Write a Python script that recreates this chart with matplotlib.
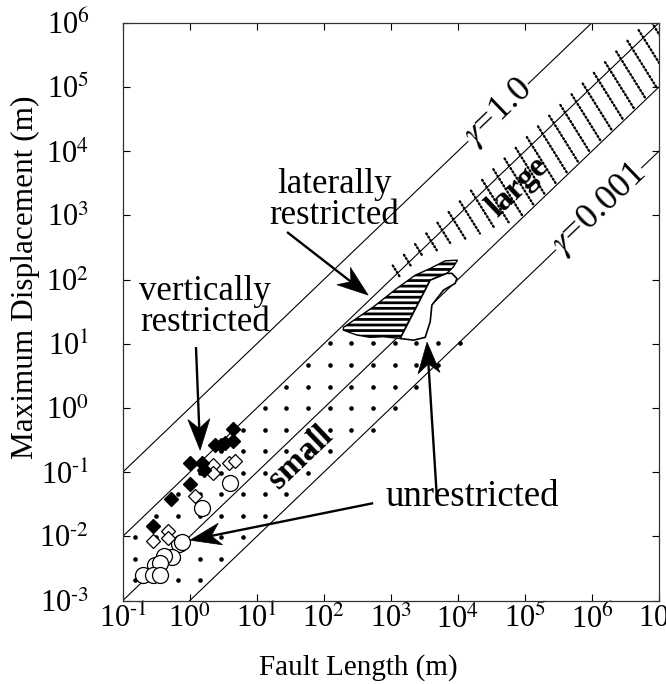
import numpy as np
import matplotlib
matplotlib.use('Agg')
import matplotlib.pyplot as plt
from matplotlib.patches import Polygon
from matplotlib.ticker import FuncFormatter

plt.rcParams['font.family'] = ['Liberation Serif', 'DejaVu Serif']
plt.rcParams['mathtext.fontset'] = 'stix'
plt.rcParams['hatch.linewidth'] = 2.0

# ---------------- data ----------------
gammas = [1.0, 0.1, 0.01, 0.001]

# vertically restricted faults (filled diamonds)
vr_L = [4.37, 2.40, 2.88, 3.39, 4.37, 1.00, 1.51, 1.66, 1.00, 0.525, 0.282]
vr_D = [0.468, 0.263, 0.269, 0.282, 0.302, 0.138, 0.141, 0.110, 0.0646, 0.038, 0.0145]

# open diamonds
od_L = [2.24, 2.24, 3.80, 4.79, 1.20, 0.479, 0.282, 0.468]
od_D = [0.132, 0.098, 0.138, 0.148, 0.0427, 0.0123, 0.0085, 0.0095]

# unrestricted faults (open circles)
ur_L = [3.98, 1.55, 0.69, 0.76, 0.54, 0.41, 0.30, 0.355, 0.204, 0.282, 0.355]
ur_D = [0.0676, 0.0275, 0.0076, 0.0081, 0.0048, 0.0050, 0.00355, 0.0038, 0.0025, 0.0025, 0.0025]

# laterally restricted population (hatched outline)
lat_L = [196, 551, 1230, 2307, 3864, 6457, 9860, 8590, 6855, 3864, 2582, 1832, 1377, 776, 491, 310, 196]
lat_D = [18.0, 37.7, 73.0, 117, 149, 196, 201, 158, 125, 98, 42.6, 22.0, 12.1, 12.9, 12.6, 13.7, 16.3]

# unrestricted large-fault population (open outline)
unr_L = [1377, 2173, 3251, 3864, 4093, 6095, 9120, 9660, 8130, 6855, 3864]
unr_D = [12.1, 11.4, 12.6, 22.0, 40.1, 68.5, 87.3, 104, 125, 125, 98]

# annotation arrows: (start L, start D) -> (tip L, tip D)
arrows = [((1.24, 8.9), (1.43, 0.221)),
          ((28.3, 550), (458, 57.4)),
          ((545, 0.033), (1.01, 0.00875)),
          ((4910, 0.0342), (3470, 10.6))]

# ---------------- figure ----------------
fig = plt.figure(figsize=(6.66, 6.84), dpi=100)
ax = fig.add_axes([0.1842, 0.1218, 0.8053, 0.8450])
ax.set_xscale('log')
ax.set_yscale('log')
ax.set_xlim(1e-1, 1e7)
ax.set_ylim(1e-3, 1e6)
ax.set_xticks([10.0 ** k for k in range(-1, 8)])
ax.set_yticks([10.0 ** k for k in range(-3, 7)])
ax.minorticks_off()


def fmt(v, pos):
    e = int(round(np.log10(v)))
    return r'$\mathregular{10^{\text{%d}}}$' % e


ax.xaxis.set_major_formatter(FuncFormatter(fmt))
ax.yaxis.set_major_formatter(FuncFormatter(fmt))
ax.tick_params(which='both', direction='in', top=True, right=True,
               length=5, width=0.8, labelsize=22)
ax.tick_params(axis='x', pad=3)
ax.tick_params(axis='y', pad=24)
for s in ax.spines.values():
    s.set_linewidth(0.9)
    s.set_color('#333333')

bbox = ax.get_window_extent()
px_dec_x = bbox.width / 8.0
px_dec_y = bbox.height / 9.0
ang = np.degrees(np.arctan2(px_dec_y, px_dec_x))
inv = ax.transData.inverted()

# gamma lines
Lr = np.array([1e-2, 1e8])
for g in gammas:
    ax.plot(Lr, g * Lr, color='k', lw=0.8, zorder=2)

# dotted "small" field: regular grid inside band 0.001L<=D<=0.1L
gx = np.arange(-0.82, 4.1, 0.323)
gy = np.arange(-2.68, 1.05, 0.335)
GX, GY = np.meshgrid(gx, gy)
m = (GY - GX <= -0.93) & (GY - GX >= -3.07) & (GX >= -1) & (GY >= -3)
ax.plot(10 ** GX[m], 10 ** GY[m], ls='none', marker='o', ms=2.3, color='k', zorder=1)

# "large" field: dotted strokes crossing the gamma=0.1 line
d = np.array([np.cos(np.radians(-58)), np.sin(np.radians(-58))])
for lL in np.arange(3.1, 7.2, 1 / 6):
    p0 = ax.transData.transform((10 ** lL, 10 ** (lL - 1)))
    frac = np.clip((lL - 3.3) / 1.3, 0.12, 1.0)
    a = p0 - d * 9
    b = p0 + d * 47 * frac
    pa = inv.transform(a)
    pb = inv.transform(b)
    ax.plot([pa[0], pb[0]], [pa[1], pb[1]], color='k', lw=1.7,
            ls=(0, (0.5, 1.1)), dash_capstyle='round', zorder=2)

# laterally restricted patch
ax.add_patch(Polygon(np.column_stack([lat_L, lat_D]), closed=True, facecolor='white',
                     edgecolor='k', hatch='---', lw=1.0, zorder=3))
ax.add_patch(Polygon(np.column_stack([unr_L, unr_D]), closed=True, facecolor='white',
                     edgecolor='k', lw=1.2, zorder=4))

# data points
ax.plot(ur_L, ur_D, ls='none', marker='o', ms=11.5, mfc='white', mec='k', mew=0.9, zorder=5)
ax.plot(od_L, od_D, ls='none', marker='D', ms=7, mfc='white', mec='k', mew=0.9, zorder=6)
ax.plot(vr_L, vr_D, ls='none', marker='D', ms=7.5, mfc='k', mec='k', zorder=7)

# gamma labels
ax.text(39800, 39800, r'$\gamma$=1.0', rotation=ang, ha='center', va='center',
        fontsize=26, zorder=8, rotation_mode='anchor',
        bbox=dict(facecolor='white', edgecolor='none', pad=0.5))
ax.text(1.26e6, 1.26e3, r'$\gamma$=0.001', rotation=ang, ha='center', va='center',
        fontsize=26, zorder=8, rotation_mode='anchor',
        bbox=dict(facecolor='white', edgecolor='none', pad=0.5))

ax.text(44.4, 0.172, 'small', rotation=ang, ha='center', va='center', fontsize=24,
        fontweight='bold', zorder=8, rotation_mode='anchor')
ax.text(77300, 2760, 'large', rotation=ang, ha='center', va='center', fontsize=24,
        fontweight='bold', zorder=8, rotation_mode='anchor')

# annotations
tfs = 25
ax.text(1.69, 37.3, 'vertically\nrestricted', ha='center', va='center', fontsize=tfs,
        linespacing=0.95, zorder=8)
ax.text(142.6, 1730, 'laterally\nrestricted', ha='center', va='center', fontsize=tfs,
        linespacing=0.95, zorder=8)
ax.text(16330, 0.0409, 'unrestricted', ha='center', va='center', fontsize=26.5, zorder=8)

# arrows with concave ("stealth") heads, head drawn in pixel space
HL, HW, NOTCH = 31.0, 11.0, 0.7
for (s, t) in arrows:
    ps = ax.transData.transform(s)
    pt = ax.transData.transform(t)
    u = (pt - ps) / np.hypot(*(pt - ps))
    n = np.array([-u[1], u[0]])
    back = pt - u * HL * NOTCH
    shaft = inv.transform(np.array([ps, back + u * 2]))
    ax.plot(shaft[:, 0], shaft[:, 1], color='k', lw=1.7, zorder=9, solid_capstyle='butt')
    head = np.array([pt, pt - u * HL + n * HW, back, pt - u * HL - n * HW])
    ax.add_patch(Polygon(inv.transform(head), closed=True, facecolor='k',
                         edgecolor='k', lw=0.5, zorder=9))

fig.text(358 / 666, 1 - 668 / 684, 'Fault Length (m)', ha='center', va='center', fontsize=21)
fig.text(25 / 666, 1 - 277 / 684, 'Maximum Displacement (m)', ha='center', va='center',
         rotation=90, fontsize=22.5)

fig.savefig('out.png', dpi=100)
